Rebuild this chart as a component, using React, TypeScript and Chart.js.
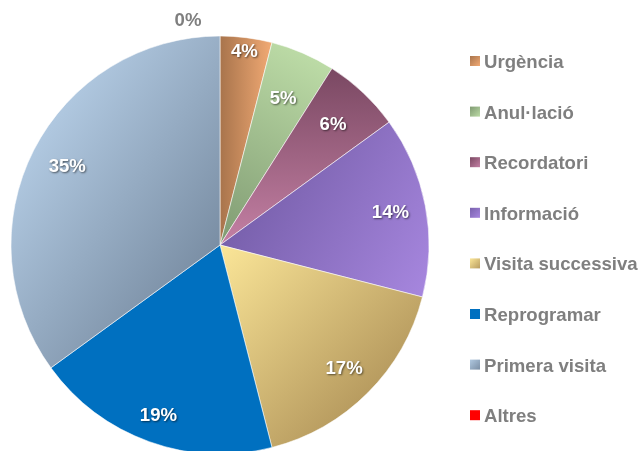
import React, { useEffect, useRef } from "react";
import { Chart, registerables } from "chart.js";

Chart.register(...registerables);

const categories = [
  "Urgència",
  "Anul·lació",
  "Recordatori",
  "Informació",
  "Visita successiva",
  "Reprogramar",
  "Primera visita",
  "Altres",
];
const percentages = [4, 5, 6, 14, 17, 19, 35, 0];

// style: gradient colour pairs and direction (deg, screen coords)
const GRADS: [string, string, number][] = [
  ["#a8744c", "#f2aa74", 0],
  ["#7f9a72", "#bcdba6", -60],
  ["#7a4862", "#c480a4", 90],
  ["#7860ac", "#a686de", 30],
  ["#fbe698", "#b89c60", 45],
  ["#0070c0", "#0070c0", 0],
  ["#b0c8e0", "#7a8ea4", 35],
  ["#ff0000", "#ff0000", 0],
];
const LABEL_R = [0.93, 0.76, 0.79, 0.83, 0.84, 0.87, 0.82, 1];
const RADIUS = 209;
const FONT = "bold 18.6px 'Liberation Sans', Arial, sans-serif";

function sliceGradient(c: CanvasRenderingContext2D, cx: number, cy: number, R: number, a0: number, a1: number, i: number) {
  const [c0, c1, deg] = GRADS[i];
  if (c0 === c1) return c0;
  const ux = Math.cos((deg * Math.PI) / 180);
  const uy = Math.sin((deg * Math.PI) / 180);
  let mn = 0, mx = 0;
  for (let k = 0; k <= 24; k++) {
    const a = a0 + ((a1 - a0) * k) / 24;
    const p = Math.cos(a) * R * ux + Math.sin(a) * R * uy;
    mn = Math.min(mn, p);
    mx = Math.max(mx, p);
  }
  if (mx - mn < 1) { mx = mn + 1; }
  const g = c.createLinearGradient(cx + ux * mn, cy + uy * mn, cx + ux * mx, cy + uy * mx);
  g.addColorStop(0, c0);
  g.addColorStop(1, c1);
  return g;
}

const total = percentages.reduce((s, v) => s + v, 0);

const labelPlugin = {
  id: "pctLabels",
  afterDatasetsDraw(chart: any) {
    const c = chart.ctx as CanvasRenderingContext2D;
    const meta = chart.getDatasetMeta(0);
    c.save();
    c.font = FONT;
    c.textAlign = "center";
    c.textBaseline = "middle";
    meta.data.forEach((el: any, i: number) => {
      const p = el.getProps(["x", "y", "startAngle", "endAngle", "outerRadius"], true);
      const v = percentages[i];
      const txt = v + "%";
      if (v === 0) {
        c.shadowColor = "transparent";
        c.fillStyle = "#7f7f7f";
        c.fillText(txt, p.x - 32, p.y - p.outerRadius - 15);
        return;
      }
      const mid = (p.startAngle + p.endAngle) / 2;
      const r = p.outerRadius * LABEL_R[i];
      c.shadowColor = "rgba(0,0,0,0.55)";
      c.shadowOffsetX = 1;
      c.shadowOffsetY = 1;
      c.shadowBlur = 2;
      c.fillStyle = "#ffffff";
      c.fillText(txt, p.x + Math.cos(mid) * r, p.y + Math.sin(mid) * r);
    });
    c.restore();
  },
};

const legendPlugin = {
  id: "sideLegend",
  afterDraw(chart: any) {
    const c = chart.ctx as CanvasRenderingContext2D;
    c.save();
    c.font = FONT;
    c.textAlign = "left";
    c.textBaseline = "alphabetic";
    categories.forEach((name, i) => {
      const top = 56 + i * 50.6;
      const [c0, c1] = GRADS[i];
      const g = c.createLinearGradient(470, top, 480, top + 10);
      g.addColorStop(0, c0);
      g.addColorStop(1, c1);
      c.fillStyle = g;
      c.fillRect(470, top, 10, 10);
      c.fillStyle = "#7f7f7f";
      c.fillText(name, 484, top + 12);
    });
    c.restore();
  },
};

export default function App() {
  const ref = useRef<HTMLCanvasElement>(null);
  useEffect(() => {
    if (!ref.current) return;
    const chart = new Chart(ref.current, {
      type: "pie",
      data: {
        labels: categories,
        datasets: [
          {
            data: percentages,
            radius: RADIUS,
            borderWidth: 1,
            borderColor: "rgba(255,255,255,0.55)",
            backgroundColor: (ctx: any) => {
              const ch = ctx.chart;
              const area = ch.chartArea;
              const i = ctx.dataIndex;
              if (!area || i === undefined) return GRADS[i ?? 0][0];
              const cx = (area.left + area.right) / 2;
              const cy = (area.top + area.bottom) / 2;
              let before = 0;
              for (let k = 0; k < i; k++) before += percentages[k];
              const a0 = -Math.PI / 2 + (before / total) * Math.PI * 2;
              const a1 = a0 + (percentages[i] / total) * Math.PI * 2;
              return sliceGradient(ch.ctx, cx, cy, RADIUS, a0, a1, i);
            },
          } as any,
        ],
      },
      options: {
        responsive: false,
        animation: false,
        layout: { padding: { left: 11, right: 211, top: 39, bottom: 0 } },
        plugins: { legend: { display: false }, tooltip: { enabled: false } },
      },
      plugins: [labelPlugin, legendPlugin],
    });
    return () => chart.destroy();
  }, []);
  return (
    <div style={{ position: "fixed", left: 0, top: 0, width: 640, height: 451, background: "#fff" }}>
      <canvas ref={ref} width={640} height={451} style={{ width: 640, height: 451 }} />
    </div>
  );
}
